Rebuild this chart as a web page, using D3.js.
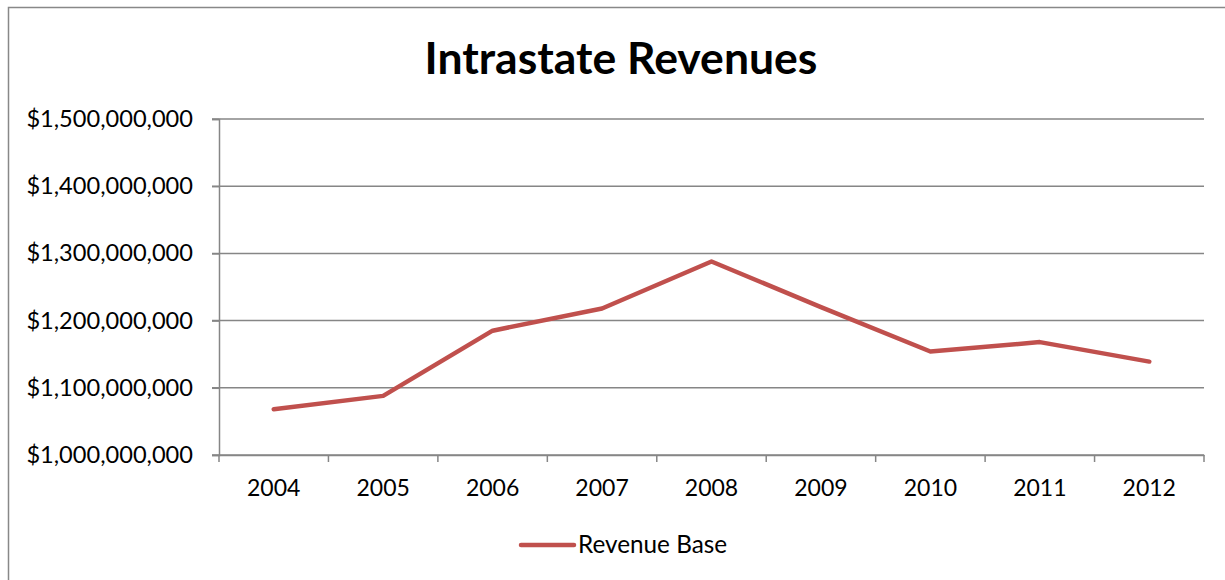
<!DOCTYPE html>
<html><head><meta charset="utf-8">
<script src="https://cdn.jsdelivr.net/npm/d3@7"></script>
<style>body{margin:0;background:#fff}svg{display:block}</style>
</head><body>
<svg id="chart" width="1225" height="580"></svg>
<script>
const years = ["2004","2005","2006","2007","2008","2009","2010","2011","2012"];
const revenueBase = [1068000000,1088000000,1185000000,1218000000,1288000000,1220000000,1154000000,1168000000,1139000000];
const yTicks = [1000000000,1100000000,1200000000,1300000000,1400000000,1500000000];
const title = "Intrastate Revenues";
const seriesName = "Revenue Base";

const svg = d3.select("#chart");
const font = "Lato, 'Open Sans', sans-serif";
const pLeft = 219, pRight = 1204, pTop = 119, pBottom = 455;

svg.append("rect").attr("x",8.5).attr("y",7.5).attr("width",1240).attr("height",600)
  .attr("fill","#fff").attr("stroke","#888").attr("stroke-width",1.5);

const x = d3.scaleBand().domain(years).range([pLeft,pRight]);
const y = d3.scaleLinear().domain([1000000000,1500000000]).range([pBottom,pTop]);

// gridlines
svg.append("g").selectAll("line").data(yTicks).join("line")
  .attr("x1",pLeft-7).attr("x2",pRight).attr("y1",d=>y(d)).attr("y2",d=>y(d))
  .attr("stroke","#868686").attr("stroke-width",1.5);

// y axis
const fmt = d => "$" + d3.format(",")(d);
const yAxis = svg.append("g").attr("transform",`translate(${pLeft},0)`)
  .call(d3.axisLeft(y).tickValues(yTicks).tickFormat(fmt).tickSize(7).tickPadding(19));
yAxis.select(".domain").attr("stroke","#868686").attr("stroke-width",1.5);
yAxis.selectAll(".tick line").attr("stroke","#868686").attr("stroke-width",1.5);
yAxis.selectAll("text").attr("font-family",font).attr("font-size",23.6).attr("fill","#000");

// x axis
const xAxis = svg.append("g").attr("transform",`translate(0,${pBottom})`)
  .call(d3.axisBottom(x).tickSize(0).tickPadding(25));
xAxis.select(".domain").attr("stroke","#868686").attr("stroke-width",1.5);
xAxis.selectAll("text").attr("font-family",font).attr("font-size",23).attr("fill","#000");
// category boundary ticks
const bounds = years.map(d=>x(d)).concat([pRight]);
svg.append("g").selectAll("line").data(bounds).join("line")
  .attr("x1",d=>d).attr("x2",d=>d).attr("y1",pBottom).attr("y2",pBottom+7)
  .attr("stroke","#868686").attr("stroke-width",1.5);

// line
const line = d3.line().x((d,i)=>x(years[i])+x.bandwidth()/2).y(d=>y(d));
svg.append("path").datum(revenueBase).attr("d",line)
  .attr("fill","none").attr("stroke","#C0504D").attr("stroke-width",4.5)
  .attr("stroke-linecap","round").attr("stroke-linejoin","round");

// title
svg.append("text").attr("x",621).attr("y",74).attr("text-anchor","middle")
  .attr("font-family",font).attr("font-weight","bold").attr("font-size",44.5).attr("fill","#000").text(title);

// legend
svg.append("line").attr("x1",521).attr("x2",574).attr("y1",545).attr("y2",545)
  .attr("stroke","#C0504D").attr("stroke-width",4.5).attr("stroke-linecap","round");
svg.append("text").attr("x",578).attr("y",553).attr("font-family",font).attr("font-size",24.3)
  .attr("fill","#000").text(seriesName);
</script>
</body></html>
